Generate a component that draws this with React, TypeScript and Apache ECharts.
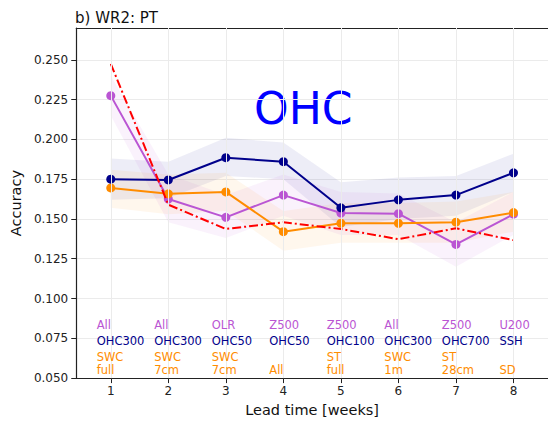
import React, { useEffect, useRef } from "react";
import * as echarts from "echarts";

// Lead times (weeks)
const weeks = [1, 2, 3, 4, 5, 6, 7, 8];

// Best-predictor accuracy per lead time
const ohcMean = [0.175, 0.1745, 0.1885, 0.186, 0.157, 0.162, 0.165, 0.179];
const ohcLow = [0.162, 0.163, 0.177, 0.175, 0.145, 0.15, 0.152, 0.167];
const ohcHigh = [0.188, 0.186, 0.201, 0.198, 0.173, 0.176, 0.177, 0.191];

const atmMean = [0.2275, 0.1625, 0.151, 0.165, 0.1537, 0.1533, 0.134, 0.153];
const atmLow = [0.215, 0.148, 0.138, 0.152, 0.14, 0.14, 0.12, 0.14];
const atmHigh = [0.24, 0.178, 0.165, 0.178, 0.167, 0.166, 0.148, 0.167];

const lndMean = [0.1695, 0.1658, 0.167, 0.142, 0.1473, 0.1473, 0.148, 0.154];
const lndLow = [0.157, 0.153, 0.155, 0.13, 0.135, 0.135, 0.135, 0.142];
const lndHigh = [0.181, 0.178, 0.179, 0.155, 0.16, 0.16, 0.161, 0.167];

const baseline = [0.2475, 0.159, 0.1437, 0.1479, 0.1437, 0.1373, 0.1441, 0.1367];

// Predictor names written under each lead time
const atmNames = ["All", "All", "OLR", "Z500", "Z500", "All", "Z500", "U200"];
const ohcNames = ["OHC300", "OHC300", "OHC50", "OHC50", "OHC100", "OHC300", "OHC700", "SSH"];
const lndNamesTop = ["SWC", "SWC", "SWC", "", "ST", "SWC", "ST", ""];
const lndNamesBottom = ["full", "7cm", "7cm", "All", "full", "1m", "28cm", "SD"];

const yTicks = [0.05, 0.075, 0.1, 0.125, 0.15, 0.175, 0.2, 0.225, 0.25];

const NAVY = "#00008b";
const PURPLE = "#ba55d3";
const ORANGE = "#ff8c00";
const RED = "#ff0000";
const FONT = "DejaVu Sans";

function bandSeries(low: number[], high: number[], color: string, opacity: number) {
  return {
    type: "custom",
    silent: true,
    z: 1,
    data: weeks.map((w, i) => [w, low[i], high[i]]),
    renderItem: (params: any, api: any) => {
      if (params.dataIndex !== 0) return null;
      const upper = weeks.map((w, i) => api.coord([w, high[i]]));
      const lower = weeks.map((w, i) => api.coord([w, low[i]])).reverse();
      return {
        type: "polygon",
        shape: { points: upper.concat(lower) },
        style: { fill: color, opacity },
      };
    },
  };
}

function textRow(names: string[], rowY: number, color: string) {
  return {
    type: "custom",
    silent: true,
    z: 5,
    data: weeks.map((w) => [w, rowY]),
    renderItem: (params: any, api: any) => {
      const p = api.coord([api.value(0) - 0.245, api.value(1)]);
      return {
        type: "text",
        x: p[0],
        y: p[1],
        style: {
          text: names[params.dataIndex],
          fill: color,
          font: `11.5px ${FONT}`,
          align: "left",
          verticalAlign: "middle",
        },
      };
    },
  };
}

function meanSeries(name: string, values: number[], color: string) {
  return {
    name,
    type: "line",
    z: 3,
    data: weeks.map((w, i) => [w, values[i]]),
    symbol: "circle",
    symbolSize: 9,
    itemStyle: { color },
    lineStyle: { color, width: 2 },
  };
}

export default function App() {
  const ref = useRef<HTMLDivElement>(null);

  useEffect(() => {
    if (!ref.current) return;
    const chart = echarts.init(ref.current, null, { renderer: "svg" });
    chart.setOption({
      animation: false,
      backgroundColor: "#ffffff",
      title: {
        text: "b) WR2: PT",
        left: 70,
        top: 5,
        textStyle: { fontFamily: FONT, fontSize: 15, fontWeight: "normal", color: "#111" },
      },
      grid: { left: 75, top: 28, right: 0, bottom: 41 },
      xAxis: [
        {
          type: "value",
          min: 0.4,
          max: 8.6,
          name: "Lead time [weeks]",
          nameLocation: "middle",
          nameGap: 23,
          nameTextStyle: { fontFamily: FONT, fontSize: 14.5, color: "#111" },
          axisLine: { show: true, onZero: false, lineStyle: { color: "#222", width: 1.2 } },
          axisTick: {
            show: true,
            length: 5,
            customValues: weeks,
            lineStyle: { color: "#222" },
          },
          axisLabel: {
            customValues: weeks,
            fontFamily: FONT,
            fontSize: 12,
            color: "#222",
            margin: 7,
          },
          splitLine: { show: false },
        },
        {
          type: "value",
          position: "top",
          min: 0.4,
          max: 8.6,
          axisLine: { show: true, onZero: false, lineStyle: { color: "#222", width: 1.2 } },
          axisTick: { show: false },
          axisLabel: { show: false },
          splitLine: { show: false },
        },
      ],
      yAxis: {
        type: "value",
        min: 0.05,
        max: 0.27,
        interval: 0.025,
        name: "Accuracy",
        nameLocation: "middle",
        nameGap: 51,
        nameTextStyle: { fontFamily: FONT, fontSize: 14.5, color: "#111" },
        axisLine: { show: true, lineStyle: { color: "#222", width: 1.2 } },
        axisTick: {
          show: true,
          length: 5,
          customValues: yTicks,
          lineStyle: { color: "#222" },
        },
        axisLabel: {
          customValues: yTicks,
          fontFamily: FONT,
          fontSize: 12,
          color: "#222",
          margin: 8,
          formatter: (v: number) => v.toFixed(3),
        },
        splitLine: { show: true, lineStyle: { color: "#ebebeb", width: 1 } },
      },
      series: [
        {
          type: "line",
          data: [[1, 0.05]],
          symbol: "none",
          lineStyle: { opacity: 0 },
          silent: true,
          z: 0,
          markLine: {
            silent: true,
            symbol: "none",
            label: { show: false },
            lineStyle: { color: "#ebebeb", type: "solid", width: 1 },
            data: weeks.map((w) => ({ xAxis: w })),
          },
        },
        bandSeries(ohcLow, ohcHigh, NAVY, 0.07),
        bandSeries(atmLow, atmHigh, PURPLE, 0.08),
        bandSeries(lndLow, lndHigh, ORANGE, 0.07),
        {
          name: "Baseline",
          type: "line",
          z: 4,
          data: weeks.map((w, i) => [w, baseline[i]]),
          symbol: "none",
          lineStyle: { color: RED, width: 2, type: [9, 3, 2, 3] },
        },
        meanSeries("Atmosphere", atmMean, PURPLE),
        meanSeries("Land", lndMean, ORANGE),
        meanSeries("OHC", ohcMean, NAVY),
        textRow(atmNames, 0.0832, PURPLE),
        textRow(ohcNames, 0.0732, NAVY),
        textRow(lndNamesTop, 0.0632, ORANGE),
        textRow(lndNamesBottom, 0.0548, ORANGE),
      ],
      graphic: [
        {
          type: "text",
          left: 254,
          top: 86,
          style: { text: "OHC", fill: "#0000ff", font: `44px ${FONT}` },
        },
      ],
    });
    return () => chart.dispose();
  }, []);

  return (
    <div
      ref={ref}
      style={{ position: "fixed", left: 0, top: 0, width: 548, height: 422 }}
    />
  );
}
